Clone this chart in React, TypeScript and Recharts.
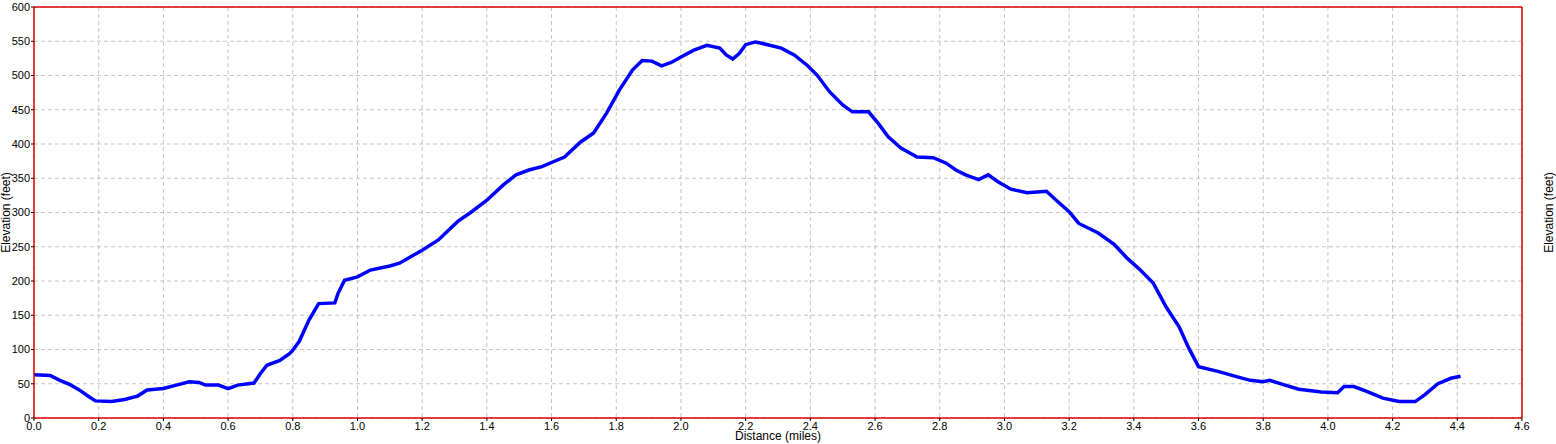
import React from 'react';
import { LineChart, Line, XAxis, YAxis, CartesianGrid, ReferenceLine, Label } from 'recharts';

const distanceMiles = [
  0.00, 0.05, 0.08, 0.11, 0.14, 0.17, 0.19, 0.24, 0.28, 0.32, 0.35, 0.40, 0.44, 0.48, 0.51, 0.53, 0.57, 0.60, 0.63, 0.68,
  0.70, 0.72, 0.76, 0.79, 0.80, 0.82, 0.85, 0.88, 0.93, 0.94, 0.96, 1.00, 1.04, 1.10, 1.13, 1.20, 1.25, 1.31, 1.35, 1.40,
  1.45, 1.49, 1.53, 1.57, 1.60, 1.64, 1.69, 1.73, 1.77, 1.81, 1.85, 1.88, 1.91, 1.94, 1.97, 2.00, 2.04, 2.08, 2.12, 2.14,
  2.16, 2.18, 2.20, 2.23, 2.25, 2.31, 2.35, 2.39, 2.42, 2.46, 2.50, 2.53, 2.58, 2.61, 2.64, 2.68, 2.73, 2.78, 2.82, 2.85,
  2.88, 2.92, 2.95, 2.98, 3.02, 3.07, 3.13, 3.16, 3.20, 3.23, 3.29, 3.34, 3.38, 3.42, 3.46, 3.50, 3.54, 3.57, 3.60, 3.66,
  3.72, 3.76, 3.80, 3.82, 3.86, 3.91, 3.98, 4.03, 4.05, 4.08, 4.12, 4.17, 4.22, 4.27, 4.30, 4.34, 4.38, 4.41,
];

const elevationFeet = [
  63, 62, 55, 49, 41, 31, 25, 24, 27, 32, 41, 43, 48, 53, 52, 48, 48, 43, 48, 51,
  65, 77, 84, 94, 99, 112, 143, 167, 168, 182, 201, 206, 216, 222, 226, 245, 260, 287, 300, 318,
  340, 355, 362, 367, 373, 381, 403, 416, 445, 479, 508, 522, 521, 514, 519, 527, 537, 544, 540, 530,
  524, 532, 545, 549, 547, 540, 530, 515, 501, 476, 457, 447, 447, 430, 411, 394, 381, 380, 372, 362,
  355, 348, 355, 345, 334, 329, 331, 318, 301, 284, 270, 253, 233, 216, 197, 162, 133, 102, 75, 68,
  60, 55, 53, 55, 49, 42, 38, 37, 46, 46, 39, 29, 24, 24, 34, 50, 58, 61,
];

const xTicks = [0, 0.2, 0.4, 0.6, 0.8, 1.0, 1.2, 1.4, 1.6, 1.8, 2.0, 2.2, 2.4, 2.6, 2.8, 3.0, 3.2, 3.4, 3.6, 3.8, 4.0, 4.2, 4.4, 4.6];
const yTicks = [0, 50, 100, 150, 200, 250, 300, 350, 400, 450, 500, 550, 600];

const xLabel = 'Distance (miles)';
const yLabel = 'Elevation (feet)';

const data = distanceMiles.map((d, i) => ({ distance: d, elevation: elevationFeet[i] }));

const RED = '#e00000';
const tickStyle = { fill: '#000', fontSize: 11 };
const labelStyle = { fill: '#000', fontSize: 12, textAnchor: 'middle' as const };

export default function App() {
  return (
    <div style={{ position: 'absolute', left: 0, top: 0, background: '#fff', fontFamily: '"Liberation Sans", Arial, sans-serif' }}>
      <LineChart width={1556} height={444} data={data} margin={{ top: 7, right: 0, bottom: 0, left: 0 }}>
        <CartesianGrid yAxisId="left" stroke="#c4c4c4" strokeDasharray="4 3" verticalValues={xTicks} horizontalValues={yTicks} />
        <XAxis
          dataKey="distance"
          type="number"
          domain={[0, 4.6]}
          ticks={xTicks}
          interval={0}
          tickFormatter={(v: number) => v.toFixed(1)}
          height={26}
          tickSize={3}
          tickMargin={1}
          tick={tickStyle}
          tickLine={{ stroke: '#000' }}
          axisLine={{ stroke: RED, strokeWidth: 1.5 }}
        >
          <Label value={xLabel} position="insideBottom" offset={4} style={labelStyle} />
        </XAxis>
        <YAxis
          yAxisId="left"
          domain={[0, 600]}
          ticks={yTicks}
          interval={0}
          width={34}
          tickSize={3}
          tickMargin={1}
          tick={tickStyle}
          tickLine={{ stroke: '#000' }}
          axisLine={{ stroke: RED, strokeWidth: 1.5 }}
        >
          <Label value={yLabel} angle={-90} position="insideLeft" offset={6} style={labelStyle} />
        </YAxis>
        <YAxis
          yAxisId="right"
          orientation="right"
          domain={[0, 600]}
          ticks={yTicks}
          interval={0}
          width={34}
          tickSize={3}
          tickMargin={1}
          tick={tickStyle}
          tickLine={{ stroke: '#000' }}
          axisLine={{ stroke: RED, strokeWidth: 1.5 }}
        >
          <Label value={yLabel} angle={-90} position="insideRight" offset={7} style={labelStyle} />
        </YAxis>
        <ReferenceLine yAxisId="left" y={600} stroke={RED} strokeWidth={1.5} />
        <Line
          yAxisId="left"
          type="linear"
          dataKey="elevation"
          stroke="#0000ff"
          strokeWidth={3.5}
          dot={false}
          isAnimationActive={false}
        />
      </LineChart>
    </div>
  );
}
